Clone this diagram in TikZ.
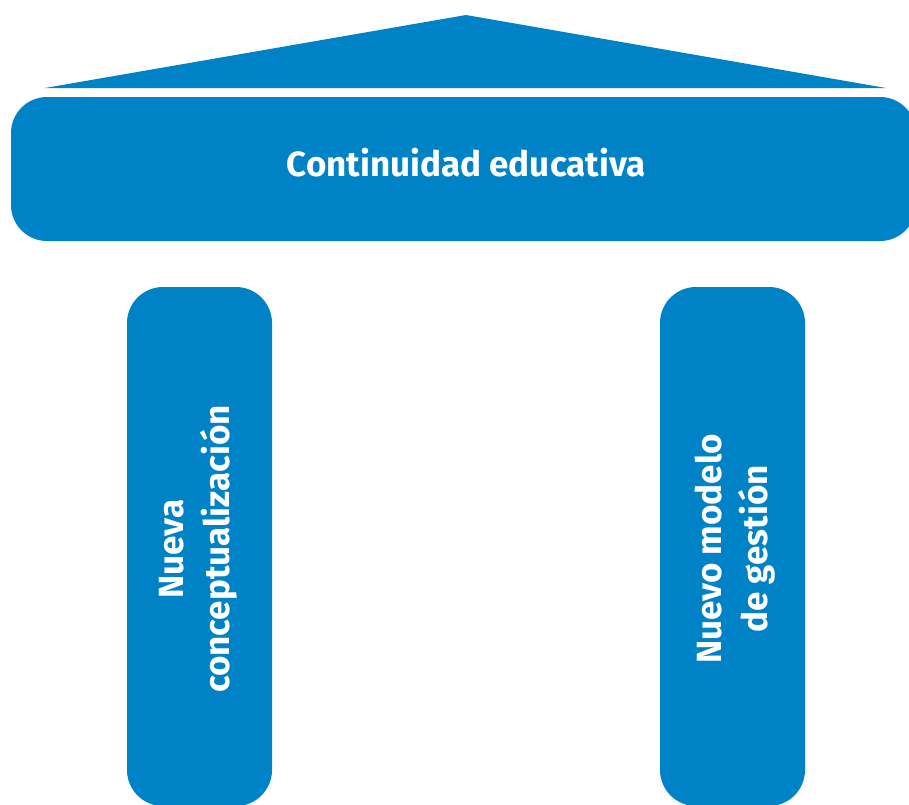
\documentclass[tikz,border=0pt]{standalone}
\usepackage{fontspec}
\setmainfont{Fira Sans}
\definecolor{cblue}{HTML}{0082C6}
\begin{document}
\begin{tikzpicture}[x=1pt,y=-1pt,
  shape/.style={fill=cblue,draw=none},
  lbl/.style={text=white,font=\fontsize{35}{46}\selectfont\bfseries,align=center}]
\useasboundingbox (0,0) rectangle (909,804);
\begin{scope}
\clip (0,0) rectangle (909,804);
\fill[cblue] (466,15) -- (886,88) -- (45,88) -- cycle;
\fill[cblue,rounded corners=36pt] (11,97) rectangle (916,241);
\fill[cblue,rounded corners=36pt] (127,287) rectangle (272,806);
\fill[cblue,rounded corners=36pt] (660,287) rectangle (805,806);
\end{scope}
\node[lbl] (beam) at (466,163) {Continuidad educativa};
\node[lbl,rotate=90] (left) at (198,549) {Nueva\\conceptualización};
\node[lbl,rotate=90] (right) at (735,549) {Nuevo modelo\\de gestión};
\end{tikzpicture}
\end{document}
